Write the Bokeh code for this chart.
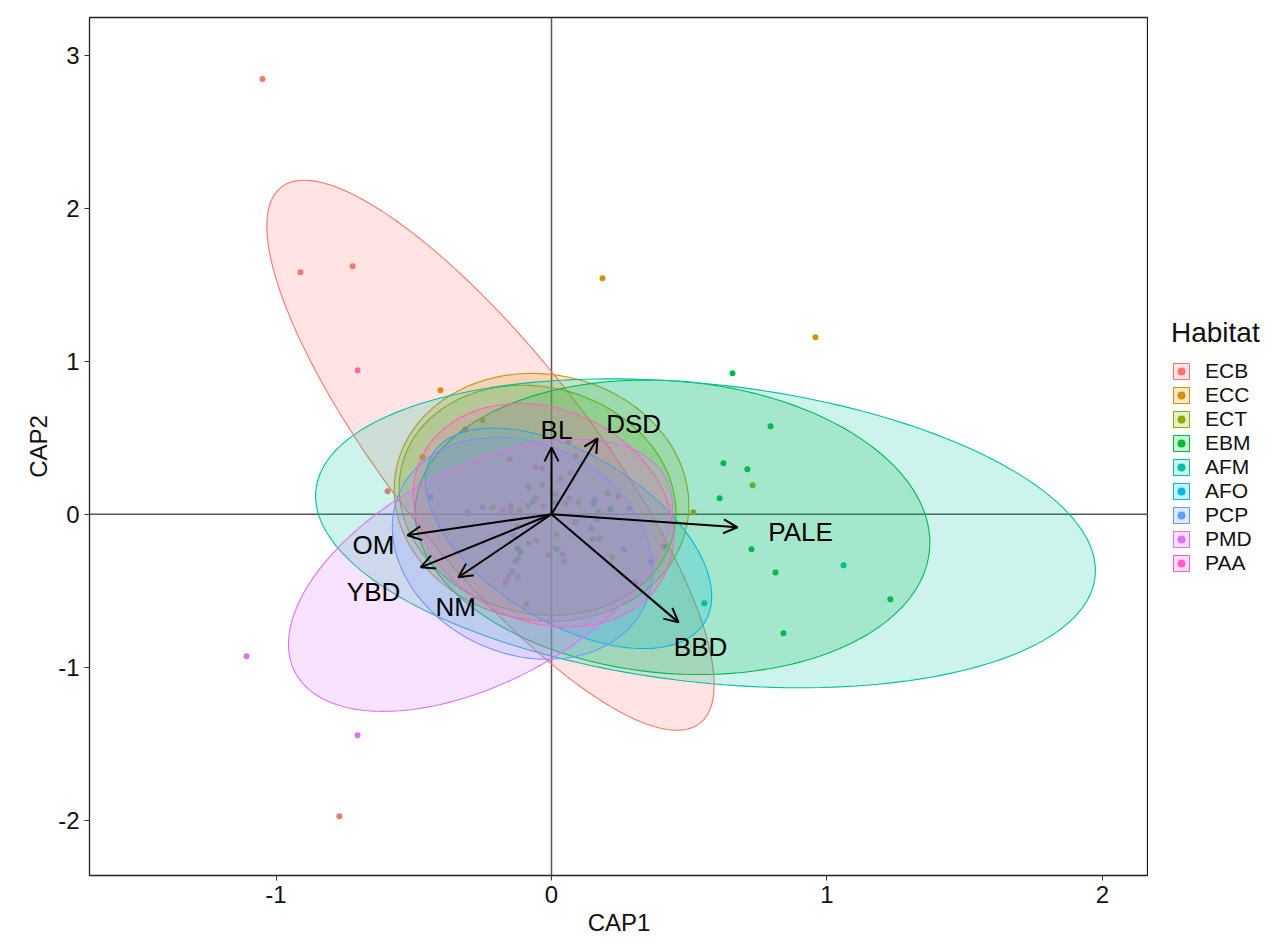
import numpy as np
from bokeh.plotting import figure
from bokeh.layouts import row
from bokeh.models import (Range1d, FixedTicker, Span, Arrow, OpenHead,
                          ColumnDataSource, Legend, LegendItem)
from bokeh.core.properties import value
from bokeh.embed import file_html
from bokeh.resources import INLINE

FONT = "Liberation Sans"

habitats = ["ECB", "ECC", "ECT", "EBM", "AFM", "AFO", "PCP", "PMD", "PAA"]
colors = ["#F8766D", "#D39200", "#93AA00", "#00BA38", "#00C19F",
          "#00B9E3", "#619CFF", "#DB72FB", "#FF61C3"]

# sample scores (CAP1, CAP2) per habitat
ECB_x = [-1.049, -0.911, -0.722, -0.770, -0.312, 0.087, -0.058, -0.595, -0.029, 0.305]
ECB_y = [2.847, 1.584, 1.623, -1.976, 0.556, 0.380, 0.308, 0.151, 0.052, -0.445]
ECC_x = [0.185, 0.958, -0.403, -0.468, -0.152, 0.033, -0.083, 0.243, 0.283, 0.098,
         -0.116, -0.149, -0.214, -0.123, 0.174, -0.120, -0.091, 0.515]
ECC_y = [1.545, 1.158, 0.812, 0.373, 0.360, 0.236, 0.177, 0.118, 0.039, 0.079,
         0.026, 0.052, 0.046, -0.079, -0.157, -0.288, -0.589, 0.013]
ECT_x = [0.730, -0.250, 0.062, -0.033, 0.015, 0.203, 0.152, 0.051, -0.087, 0.171,
         0.087, 0.018, -0.083, -0.011, 0.221]
ECT_y = [0.190, 0.615, 0.478, 0.196, 0.131, 0.137, 0.065, 0.072, 0.052, 0.013,
         -0.052, -0.131, -0.190, -0.268, -0.281]
EBM_x = [0.657, 0.795, 0.624, 0.711, 0.610, 0.726, 0.813, 1.230, 0.842, 0.407,
         0.214, 0.015, -0.123, -0.113]
EBM_y = [0.923, 0.576, 0.334, 0.295, 0.105, -0.229, -0.380, -0.556, -0.779, -0.209,
         0.033, 0.079, -0.223, -0.249]
AFM_x = [1.060, 0.555, -0.069, 0.149, 0.018]
AFM_y = [-0.334, -0.582, 0.079, -0.164, -0.229]
AFO_x = [0.156, 0.167, 0.261, 0.363]
AFO_y = [0.092, -0.033, -0.229, -0.314]
PCP_x = [-0.439, -0.250, -0.305, -0.138, 0.047, -0.131, -0.142]
PCP_y = [0.111, 0.046, 0.007, -0.137, -0.308, -0.308, -0.373]
PMD_x = [-1.107, -0.704, -0.123, -0.167]
PMD_y = [-0.929, -1.446, -0.412, -0.445]
PAA_x = [-0.704, -0.033, 0.069, 0.065, -0.058, -0.149, -0.178, 0.145, -0.054, 0.040, -0.156]
PAA_y = [0.942, 0.301, 0.268, 0.105, 0.105, 0.026, 0.026, -0.092, -0.170, -0.262, -0.406]

points_x = [ECB_x, ECC_x, ECT_x, EBM_x, AFM_x, AFO_x, PCP_x, PMD_x, PAA_x]
points_y = [ECB_y, ECC_y, ECT_y, EBM_y, AFM_y, AFO_y, PCP_y, PMD_y, PAA_y]

# ellipse centres and shape matrices (CAP1/CAP2 units)
ell_cx = [-0.2214, -0.0363, -0.0508, 0.4392, 0.5590, 0.0617, -0.1053, -0.2577, -0.0290]
ell_cy = [0.3861, 0.1113, 0.0916, -0.0851, -0.1243, -0.1571, -0.2225, -0.3992, -0.0065]
ell_sxx = [0.6592, 0.2859, 0.2522, 0.8725, 2.0030, 0.2700, 0.2232, 0.4857, 0.2237]
ell_sxy = [-1.2171, -0.0275, -0.0406, -0.0933, -0.3459, -0.1967, -0.0655, 0.3139, -0.0636]
ell_syy = [3.2366, 0.6568, 0.5665, 0.9277, 1.0208, 0.5200, 0.5273, 0.7923, 0.5347]

# environmental vectors
vec_names = ["BL", "DSD", "PALE", "OM", "YBD", "NM", "BBD"]
vec_x = [0.0, 0.167, 0.675, -0.523, -0.475, -0.338, 0.461]
vec_y = [0.438, 0.497, -0.085, -0.137, -0.347, -0.412, -0.707]
lab_x = [0.018, 0.298, 0.904, -0.646, -0.646, -0.348, 0.541]
lab_y = [0.550, 0.589, -0.118, -0.203, -0.510, -0.609, -0.870]

x_ticks = [-1, 0, 1, 2]
y_ticks = [-2, -1, 0, 1, 2, 3]

p = figure(frame_width=1059, frame_height=858,
           x_range=Range1d(-1.677, 2.167), y_range=Range1d(-2.363, 3.25),
           output_backend="svg", toolbar_location=None,
           min_border_left=89, min_border_right=0,
           min_border_top=17, min_border_bottom=40)
p.xgrid.visible = False
p.ygrid.visible = False
p.outline_line_color = "#222222"
p.outline_line_width = 1.3
p.background_fill_color = "white"
p.border_fill_color = "white"

for ax in (p.xaxis[0], p.yaxis[0]):
    ax.major_label_text_font = FONT
    ax.major_label_text_font_size = "24px"
    ax.major_label_text_color = "#111111"
    ax.axis_label_text_font = FONT
    ax.axis_label_text_font_size = "24px"
    ax.axis_label_text_font_style = "normal"
    ax.axis_label_text_color = "#111111"
    ax.minor_tick_line_color = None
    ax.major_tick_in = 0
    ax.major_tick_out = 5
    ax.major_tick_line_color = "#333333"
    ax.axis_line_color = "#222222"
    ax.major_label_standoff = 5
    ax.axis_label_standoff = 3
p.xaxis.ticker = FixedTicker(ticks=x_ticks)
p.yaxis.ticker = FixedTicker(ticks=y_ticks)
p.xaxis.major_label_overrides = {t: str(t) for t in x_ticks}
p.yaxis.major_label_overrides = {t: str(t) for t in y_ticks}
p.xaxis.axis_label = "CAP1"
p.yaxis.axis_label = "CAP2"

p.add_layout(Span(location=0, dimension="height", line_color="#555555", line_width=1.5, level="underlay"))
p.add_layout(Span(location=0, dimension="width", line_color="#555555", line_width=1.5, level="underlay"))

t = np.linspace(0, 2 * np.pi, 200)
for i, h in enumerate(habitats):
    p.scatter(points_x[i], points_y[i], size=6, color=colors[i], line_color=None)
for i, h in enumerate(habitats):
    S = np.array([[ell_sxx[i], ell_sxy[i]], [ell_sxy[i], ell_syy[i]]])
    lam, V = np.linalg.eigh(S)
    M = V @ np.diag(np.sqrt(lam))
    pts = M @ np.vstack([np.cos(t), np.sin(t)])
    ex = (ell_cx[i] + pts[0]).tolist()
    ey = (ell_cy[i] + pts[1]).tolist()
    p.patch(ex, ey, fill_color=colors[i], fill_alpha=0.2,
            line_color=colors[i], line_width=1.1)

src = ColumnDataSource(dict(x0=[0.0] * len(vec_x), y0=[0.0] * len(vec_y),
                            x1=vec_x, y1=vec_y))
p.add_layout(Arrow(end=OpenHead(size=14, line_width=2, line_color="black"),
                   x_start="x0", y_start="y0", x_end="x1", y_end="y1",
                   line_width=2, line_color="black", source=src))
lsrc = ColumnDataSource(dict(x=lab_x, y=lab_y, t=vec_names))
p.text(x="x", y="y", text="t", source=lsrc, text_font=value(FONT),
       text_font_size="26px", text_align="center", text_baseline="middle",
       text_color="black")

# legend panel (separate figure whose frame lines up with the main frame)
lp = figure(frame_width=105, frame_height=858, x_range=Range1d(0, 1), y_range=Range1d(0, 1),
            output_backend="svg", toolbar_location=None,
            x_axis_location=None, y_axis_location=None,
            min_border_left=23, min_border_top=17, min_border_right=0,
            min_border_bottom=0, outline_line_color=None)
lp.xgrid.visible = False
lp.ygrid.visible = False
items = []
for i, h in enumerate(habitats):
    pr = lp.patch([5, 6, 6], [5, 5, 6], fill_color=colors[i], fill_alpha=0.2,
                  line_color=colors[i], line_width=1.1)
    sr = lp.scatter([5.5], [5.5], size=5, color=colors[i], line_color=None)
    items.append(LegendItem(label=h, renderers=[pr, sr]))

legend = Legend(items=items, location="center_left")
legend.title = "Habitat"
legend.title_text_font = FONT
legend.title_text_font_size = "28px"
legend.title_text_font_style = "normal"
legend.title_text_color = "#111111"
legend.title_standoff = 10
legend.label_text_font = FONT
legend.label_text_font_size = "21px"
legend.label_text_color = "#111111"
legend.label_height = 20
legend.glyph_height = 20
legend.glyph_width = 20
legend.spacing = 0
legend.padding = 0
legend.margin = 0
legend.label_standoff = 14
legend.border_line_color = None
legend.background_fill_alpha = 0
lp.add_layout(legend)

layout = row(p, lp)
open("out.html", "w").write(file_html(layout, INLINE))
